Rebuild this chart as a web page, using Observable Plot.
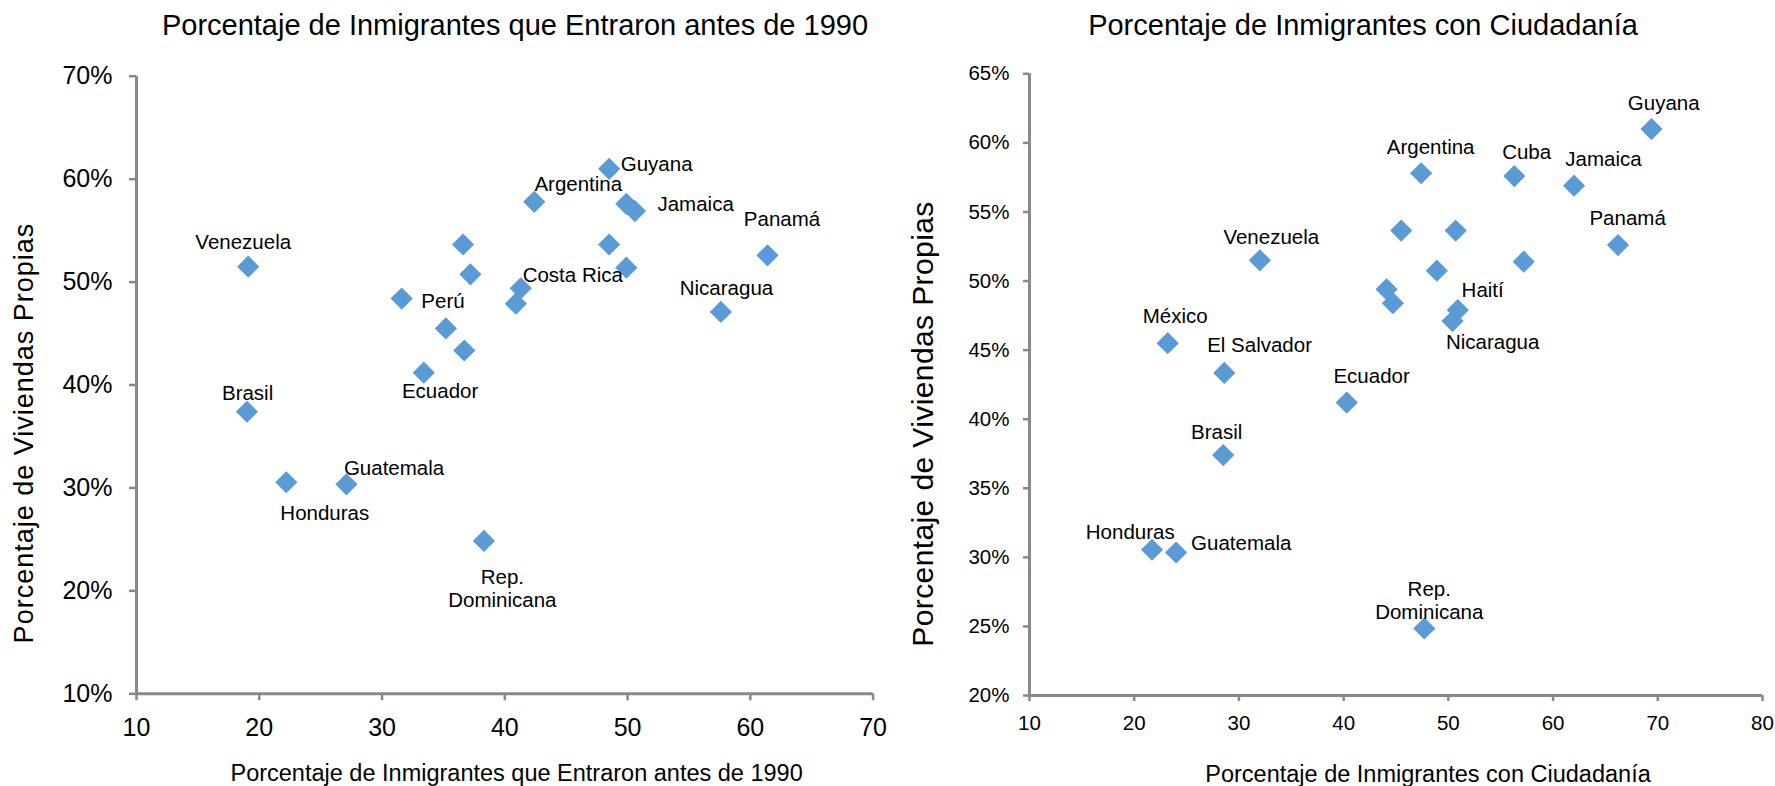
<!DOCTYPE html>
<html>
<head>
<meta charset="utf-8">
<script src="https://cdn.jsdelivr.net/npm/d3@7"></script>
<script src="https://cdn.jsdelivr.net/npm/@observablehq/plot@0.6"></script>
<style>
  html, body { margin: 0; padding: 0; background: #fff; }
  #wrap { position: relative; width: 1775px; height: 786px; overflow: hidden; font-family: "Liberation Sans", Arial, Helvetica, sans-serif; }
  #left { position: absolute; left: 0; top: 0; }
  #right { position: absolute; left: 900px; top: 0; }
  #overlay { position: absolute; left: 0; top: 0; pointer-events: none; }
  svg { overflow: visible; }
</style>
</head>
<body>
<div id="wrap">
  <div id="left"></div>
  <div id="right"></div>
  <svg id="overlay" width="1775" height="786"></svg>
</div>
<script>
// ---- Data ----
const countries = ["Venezuela","Guyana","Argentina","Cuba","Jamaica","Panamá","s/e 1","s/e 2","s/e 3","s/e 4","Costa Rica","Haití","Perú","México","El Salvador","Ecuador","Nicaragua","Brasil","Honduras","Guatemala","Rep. Dominicana"];
// % of immigrants who entered before 1990
const before1990 = [19.1, 48.5, 42.4, 49.9, 50.6, 61.4, 36.6, 48.5, 37.2, 49.9, 41.3, 40.9, 31.6, 35.2, 36.7, 33.4, 57.6, 19.0, 22.2, 27.1, 38.3];
// % of immigrants with citizenship
const citizenship = [32.0, 69.4, 47.4, 56.3, 62.0, 66.2, 45.5, 50.7, 48.9, 57.2, 44.1, 50.9, 44.7, 23.2, 28.6, 40.3, 50.4, 28.5, 21.7, 24.0, 47.7];
// % of owner-occupied dwellings
const ownership = [51.5, 61.0, 57.8, 57.6, 56.9, 52.6, 53.65, 53.65, 50.75, 51.4, 49.4, 47.9, 48.4, 45.5, 43.35, 41.2, 47.1, 37.4, 30.55, 30.35, 24.85];

const leftLabels = ["Guyana","Argentina","Jamaica","Panamá","Venezuela","Costa Rica","Perú","Nicaragua","Ecuador","Brasil","Guatemala","Honduras","Rep. Dominicana"];
const rightLabels = ["Guyana","Argentina","Cuba","Jamaica","Panamá","Venezuela","Haití","Nicaragua","México","El Salvador","Ecuador","Brasil","Honduras","Guatemala","Rep. Dominicana"];

const leftXTicks = [10, 20, 30, 40, 50, 60, 70];
const leftYTicks = [10, 20, 30, 40, 50, 60, 70];
const rightXTicks = [10, 20, 30, 40, 50, 60, 70, 80];
const rightYTicks = [20, 25, 30, 35, 40, 45, 50, 55, 60, 65];

const titleLeft = "Porcentaje de Inmigrantes que Entraron antes de 1990";
const titleRight = "Porcentaje de Inmigrantes con Ciudadanía";
const yTitle = "Porcentaje de Viviendas Propias";

// ---- Layout (label placement offsets in px) ----
const leftOffsets = {
  "Guyana": [47.5, -5], "Argentina": [44, -18.5], "Jamaica": [60.7, -7.4], "Panamá": [14.5, -36.7],
  "Venezuela": [-5, -25], "Costa Rica": [52, -14], "Perú": [41.3, 2.3], "Nicaragua": [5.6, -24.4],
  "Ecuador": [16.3, 17.7], "Brasil": [0.6, -19], "Guatemala": [47.6, -16.7], "Honduras": [38.5, 30.6],
  "Rep. Dominicana": [18.4, 47]
};
const rightOffsets = {
  "Guyana": [12.2, -27], "Argentina": [9.5, -26.6], "Cuba": [12.3, -25], "Jamaica": [29.5, -27],
  "Panamá": [9.6, -27.6], "Venezuela": [11.4, -24], "Haití": [24.9, -21], "Nicaragua": [40.1, 20.7],
  "México": [7.4, -27.6], "El Salvador": [35.3, -28.4], "Ecuador": [24.8, -26.7], "Brasil": [-6.5, -23.3],
  "Honduras": [-21.8, -18.3], "Guatemala": [65.1, -10.3], "Rep. Dominicana": [5, -28.6]
};

const gray = "#898989";
const blue = "#5b9bd5";
const font = "Liberation Sans, Arial, Helvetica, sans-serif";

const rows = countries.map((c, i) => ({country: c, before: before1990[i], cit: citizenship[i], own: ownership[i]}));
const pct = d => d + "%";

function labelMarks(labels, offsets, xKey) {
  return labels.map(name => {
    const r = rows.find(d => d.country === name);
    const [dx, dy] = offsets[name];
    const txt = name === "Rep. Dominicana" ? "Rep.\nDominicana" : name;
    return Plot.text([r], {
      x: xKey, y: "own", text: () => txt, dx, dy,
      textAnchor: "middle", lineAnchor: "middle", lineHeight: 1.15,
      fontSize: 20.5, fill: "black"
    });
  });
}

const leftPlot = Plot.plot({
  width: 900, height: 786,
  marginLeft: 136, marginRight: 27.4, marginTop: 75.7, marginBottom: 92.7,
  style: {fontFamily: font, color: "black", background: "transparent"},
  x: {domain: [10, 70]},
  y: {domain: [10, 70]},
  marks: [
    Plot.axisY({ticks: leftYTicks, tickFormat: pct, tickSize: 7, tickPadding: 17, fontSize: 25, stroke: gray, strokeWidth: 2.5, label: null}),
    Plot.axisX({ticks: leftXTicks, tickSize: 7, tickPadding: 17, fontSize: 25, stroke: gray, strokeWidth: 2.5, label: null}),
    Plot.ruleX([10], {stroke: gray, strokeWidth: 3}),
    Plot.ruleY([10], {stroke: gray, strokeWidth: 3}),
    Plot.dot(rows, {x: "before", y: "own", symbol: "diamond2", r: 10, fill: blue, stroke: "none"}),
    ...labelMarks(leftLabels, leftOffsets, "before")
  ]
});
document.getElementById("left").appendChild(leftPlot);

const rightPlot = Plot.plot({
  width: 875, height: 786,
  marginLeft: 129, marginRight: 13, marginTop: 73.3, marginBottom: 91,
  style: {fontFamily: font, color: "black", background: "transparent"},
  x: {domain: [10, 80]},
  y: {domain: [20, 65]},
  marks: [
    Plot.axisY({ticks: rightYTicks, tickFormat: pct, tickSize: 6, tickPadding: 14, fontSize: 20.5, stroke: gray, strokeWidth: 2.5, label: null}),
    Plot.axisX({ticks: rightXTicks, tickSize: 6, tickPadding: 14, fontSize: 20.5, stroke: gray, strokeWidth: 2.5, label: null}),
    Plot.ruleX([10], {stroke: gray, strokeWidth: 3}),
    Plot.ruleY([20], {stroke: gray, strokeWidth: 3}),
    Plot.dot(rows, {x: "cit", y: "own", symbol: "diamond2", r: 10, fill: blue, stroke: "none"}),
    ...labelMarks(rightLabels, rightOffsets, "cit")
  ]
});
document.getElementById("right").appendChild(rightPlot);

// ---- Titles ----
const ov = d3.select("#overlay").style("font-family", font);
const texts = [
  {t: titleLeft, x: 515, y: 35, size: 29},
  {t: titleRight, x: 1363, y: 35, size: 29},
  {t: titleLeft, x: 516.6, y: 781, size: 23.5},
  {t: titleRight, x: 1428, y: 782, size: 23.5}
];
texts.forEach(d => ov.append("text").attr("x", d.x).attr("y", d.y).attr("text-anchor", "middle")
  .attr("font-size", d.size).attr("fill", "black").text(d.t));
[{x: 32.7, y: 433, size: 27, ls: 1}, {x: 933.3, y: 424, size: 30, ls: 0.4}].forEach(d =>
  ov.append("text").attr("transform", `translate(${d.x},${d.y}) rotate(-90)`).attr("text-anchor", "middle")
    .attr("font-size", d.size).attr("letter-spacing", d.ls).attr("fill", "black").text(yTitle));
</script>
</body>
</html>
